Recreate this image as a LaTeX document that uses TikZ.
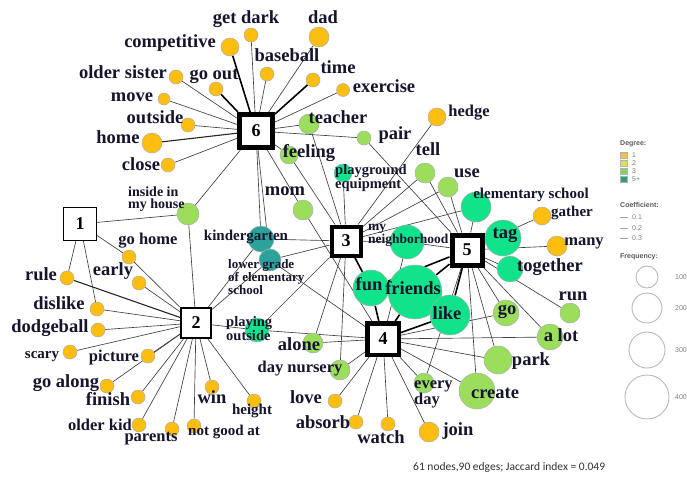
\documentclass[tikz,border=0pt]{standalone}
\usepackage{fontspec}
\setmainfont{Liberation Serif}
\newfontfamily\legfont{Liberation Sans}
\newfontfamily\capfont{Carlito}
\usetikzlibrary{backgrounds}

\definecolor{cOr}{HTML}{FDBE0F}
\definecolor{cLg}{HTML}{9BDE5C}
\definecolor{cBg}{HTML}{11E38A}
\definecolor{cTl}{HTML}{2BA39A}
\definecolor{edge}{HTML}{404040}
\definecolor{txt}{HTML}{14142C}
\definecolor{legA}{HTML}{F5C242}
\definecolor{legB}{HTML}{D5E05B}
\definecolor{legC}{HTML}{8ACF63}
\definecolor{legD}{HTML}{2E9E74}

\tikzset{
	wrd/.style={circle, draw=gray!65, line width=0.5pt, inner sep=0pt},
	grp/.style={rectangle, draw=black, fill=white, inner sep=0pt, font=\fontsize{18}{18}\selectfont\bfseries},
	lbl/.style={inner sep=0pt, text=txt, text height=.68em, text depth=.2em, font=\fontsize{18.5}{18.5}\selectfont\bfseries},
	lblm/.style={lbl, font=\fontsize{16.5}{16.5}\selectfont\bfseries},
	lbls/.style={lbl, font=\fontsize{15}{15}\selectfont\bfseries},
	lblml/.style 2 args={inner sep=0pt, text=txt, anchor=west, align=left, font=\fontsize{#1}{#2}\selectfont\bfseries},
	lnk/.style={draw=edge, line width=0.65pt},
	lnkm/.style={draw=black!85, line width=1.1pt},
	lnkb/.style={draw=black, line width=1.6pt},
	leg/.style={inner sep=0pt, anchor=west, text=gray, font=\legfont\fontsize{7}{7}\selectfont},
	legh/.style={leg, text=black!65, font=\legfont\fontsize{7}{7}\selectfont\bfseries},
}

\begin{document}
\begin{tikzpicture}[x=1pt, y=-1pt]
	\useasboundingbox (0,0) rectangle (687,477);
	\clip (0,0) rectangle (687,477);

	% group squares
	\node[grp, minimum size=33, line width=5pt] (g6) at (256,131) {6};
	\node[grp, minimum size=33, line width=1.2pt] (g1) at (80,224) {1};
	\node[grp, minimum size=30, line width=2pt] (g2) at (196,323) {2};
	\node[grp, minimum size=29, line width=4pt] (g3) at (346,241) {3};
	\node[grp, minimum size=30, line width=5pt] (g5) at (467,250) {5};
	\node[grp, minimum size=31.5, line width=4.5pt] (g4) at (383,339) {4};

	% words
	\node[wrd, fill=cOr, minimum size=18] (comp) at (230,47) {};
	\node[wrd, fill=cOr, minimum size=14] (gdark) at (251,35) {};
	\node[wrd, fill=cOr, minimum size=20] (dad) at (319,37) {};
	\node[wrd, fill=cOr, minimum size=14] (base) at (267,74) {};
	\node[wrd, fill=cOr, minimum size=14] (time) at (313,80) {};
	\node[wrd, fill=cOr, minimum size=13] (exer) at (343,90) {};
	\node[wrd, fill=cOr, minimum size=14] (osis) at (176,77) {};
	\node[wrd, fill=cOr, minimum size=14] (gout) at (216,89) {};
	\node[wrd, fill=cOr, minimum size=12] (move) at (164,99) {};
	\node[wrd, fill=cOr, minimum size=14] (outs) at (188,125) {};
	\node[wrd, fill=cOr, minimum size=20] (home) at (152,143) {};
	\node[wrd, fill=cOr, minimum size=14] (close) at (168,165) {};
	\node[wrd, fill=cLg, minimum size=20] (teach) at (309,124) {};
	\node[wrd, fill=cLg, minimum size=14] (pair) at (364,138) {};
	\node[wrd, fill=cLg, minimum size=18] (feel) at (289,155) {};
	\node[wrd, fill=cOr, minimum size=18] (hedge) at (437,117) {};
	\node[wrd, fill=cBg, minimum size=18] (play) at (343,173) {};
	\node[wrd, fill=cLg, minimum size=20] (tell) at (425,173) {};
	\node[wrd, fill=cLg, minimum size=20] (use) at (448,187) {};
	\node[wrd, fill=cLg, minimum size=20] (mom) at (303,210) {};
	\node[wrd, fill=cBg, minimum size=30] (elem) at (476,207) {};
	\node[wrd, fill=cOr, minimum size=18] (gath) at (542,216) {};
	\node[wrd, fill=cBg, minimum size=34] (neigh) at (407,242) {};
	\node[wrd, fill=cBg, minimum size=36] (tag) at (503,238) {};
	\node[wrd, fill=cOr, minimum size=20] (many) at (557,246) {};
	\node[wrd, fill=cBg, minimum size=26] (tog) at (510,269) {};
	\node[wrd, fill=cBg, minimum size=36] (fun) at (371,288) {};
	\node[wrd, fill=cBg, minimum size=54] (fri) at (415,292) {};
	\node[wrd, fill=cBg, minimum size=40] (like) at (450,315) {};
	\node[wrd, fill=cLg, minimum size=22] (inside) at (188,214) {};
	\node[wrd, fill=cTl, minimum size=26] (kind) at (261,239) {};
	\node[wrd, fill=cTl, minimum size=22] (lower) at (270,260) {};
	\node[wrd, fill=cOr, minimum size=14] (ghome) at (129,257) {};
	\node[wrd, fill=cOr, minimum size=14] (early) at (139,283) {};
	\node[wrd, fill=cOr, minimum size=14] (rule) at (67,278) {};
	\node[wrd, fill=cOr, minimum size=14] (disl) at (97,309) {};
	\node[wrd, fill=cOr, minimum size=14] (dodge) at (98,330) {};
	\node[wrd, fill=cBg, minimum size=24] (pout) at (257,330) {};
	\node[wrd, fill=cOr, minimum size=14] (scary) at (70,352) {};
	\node[wrd, fill=cOr, minimum size=14] (pict) at (148,356) {};
	\node[wrd, fill=cOr, minimum size=14] (galong) at (107,386) {};
	\node[wrd, fill=cOr, minimum size=14] (fin) at (138,397) {};
	\node[wrd, fill=cOr, minimum size=14] (okid) at (139,425) {};
	\node[wrd, fill=cOr, minimum size=14] (par) at (172,429) {};
	\node[wrd, fill=cOr, minimum size=14] (ngood) at (194,426) {};
	\node[wrd, fill=cOr, minimum size=14] (win) at (212,387) {};
	\node[wrd, fill=cOr, minimum size=14] (height) at (254,401) {};
	\node[wrd, fill=cLg, minimum size=20] (alone) at (313,343) {};
	\node[wrd, fill=cLg, minimum size=20] (dnur) at (340,370) {};
	\node[wrd, fill=cOr, minimum size=14] (love) at (335,401) {};
	\node[wrd, fill=cOr, minimum size=14] (absorb) at (356,422) {};
	\node[wrd, fill=cOr, minimum size=14] (watch) at (388,424) {};
	\node[wrd, fill=cOr, minimum size=20] (join) at (429,432) {};
	\node[wrd, fill=cLg, minimum size=20] (every) at (424,383) {};
	\node[wrd, fill=cLg, minimum size=36] (create) at (477,391) {};
	\node[wrd, fill=cLg, minimum size=28] (park) at (498,360) {};
	\node[wrd, fill=cLg, minimum size=26] (alot) at (550,337) {};
	\node[wrd, fill=cLg, minimum size=26] (go) at (506,313) {};
	\node[wrd, fill=cLg, minimum size=20] (run) at (570,313) {};

	% labels
	\node[lbl] (compt) at (170,45) {competitive};
	\node[lbl] (gdarkt) at (246,21) {get dark};
	\node[lbl] (dadt) at (323,21) {dad};
	\node[lbl] (baset) at (287,59) {baseball};
	\node[lbl] (timet) at (338,71) {time};
	\node[lbl] (exert) at (384,90) {exercise};
	\node[lbl] (osist) at (123,76) {older sister};
	\node[lbl] (goutt) at (214,77) {go out};
	\node[lbl] (movet) at (132,99) {move};
	\node[lbl] (outst) at (155,121) {outside};
	\node[lbl] (homet) at (118,141) {home};
	\node[lbl] (closet) at (141,168) {close};
	\node[lbl] (teacht) at (338,121) {teacher};
	\node[lbl] (pairt) at (395,137) {pair};
	\node[lbl] (feelt) at (309,155) {feeling};
	\node[lblm] (hedget) at (469,114) {hedge};
	\node[lblml={14.5}{12}] (playt) at (335,178) {playground\\equipment};
	\node[lbl] (tellt) at (428,153) {tell};
	\node[lbl] (uset) at (467,175) {use};
	\node[lbl] (momt) at (285,193) {mom};
	\node[lbls] (elemt) at (531,196) {elementary school};
	\node[lbls] (gatht) at (572,214) {gather};
	\node[lblml={13.5}{11.5}] (neight) at (368,235.5) {my\\neighborhood};
	\node[lbl] (tagt) at (505,236) {tag};
	\node[lblm] (manyt) at (584,243) {many};
	\node[lbl] (togt) at (550,269) {together};
	\node[lbl] (funt) at (369,288) {fun};
	\node[lbl] (frit) at (413,292) {friends};
	\node[lbl] (liket) at (447,317) {like};
	\node[lblml={14}{12}] (insidet) at (128,199) {inside in\\my house};
	\node[lbls] (kindt) at (246,238) {kindergarten};
	\node[lblml={13}{9.8}] (lowert) at (228,277) {lower grade\\of elementary\\school};
	\node[lblm] (ghomet) at (148,242) {go home};
	\node[lbl] (earlyt) at (113,273) {early};
	\node[lbl] (rulet) at (41,278) {rule};
	\node[lbl] (dislt) at (59,307) {dislike};
	\node[lbl] (dodget) at (50,330) {dodgeball};
	\node[lblml={14.5}{11.5}] (poutt) at (226,328.5) {playing\\outside};
	\node[lbls] (scaryt) at (42,356) {scary};
	\node[lblm] (pictt) at (114,359) {picture};
	\node[lbl] (galongt) at (66,385) {go along};
	\node[lbl] (fint) at (108,403) {finish};
	\node[lblm] (okidt) at (100,428) {older kid};
	\node[lblm] (part) at (151,439) {parents};
	\node[lbls] (ngoodt) at (224,433) {not good at};
	\node[lbl] (wint) at (212,401) {win};
	\node[lbls] (heightt) at (252,412) {height};
	\node[lbl] (alonet) at (299,348) {alone};
	\node[lblm] (dnurt) at (300,370) {day nursery};
	\node[lbl] (lovet) at (306,401) {love};
	\node[lbl] (absorbt) at (323,426) {absorb};
	\node[lbl] (watcht) at (381,441) {watch};
	\node[lbl] (joint) at (458,433) {join};
	\node[lblml={16.5}{14}] (everyt) at (414,394) {every\\day};
	\node[lbl] (createt) at (495,396) {create};
	\node[lbl] (parkt) at (531,363) {park};
	\node[lbl] (alott) at (561,339) {a lot};
	\node[lbl] (got) at (507,312) {go};
	\node[lbl] (runt) at (573,298) {run};

	% legend
	\node[legh] (degh) at (620,144) {Degree:};
	\foreach \c/\t [count=\i] in {legA/1,legB/2,legC/3,legD/5+} {
		\node[draw=gray!60, line width=0.3pt, fill=\c, minimum size=6.5, inner sep=0pt] (dsq\i) at (623.5,147+8*\i) {};
		\node[leg] (dtx\i) at (632,147+8*\i) {\t};
	}
	\node[legh] (coefh) at (620,205) {Coefficient:};
	\foreach \w/\t [count=\i] in {0.4pt/0.1,0.8pt/0.2,1.2pt/0.3} {
		\draw[gray!70, line width=\w] (620,207+10.5*\i) -- (628,207+10.5*\i);
		\node[leg] (ctx\i) at (632,207+10.5*\i) {\t};
	}
	\node[legh] (freqh) at (620,257) {Frequency:};
	\foreach \y/\d/\t [count=\i] in {277/22/100,308/30/200,350/36/300,397/44/400} {
		\node[circle, draw=gray!55, line width=0.9pt, minimum size=\d, inner sep=0pt] (fq\i) at (647,\y) {};
		\node[leg] (ftx\i) at (675,\y) {\t};
	}

	\node[anchor=west, inner sep=0pt, text=black!80, font=\capfont\fontsize{11.5}{11.5}\selectfont] (cap) at (413,467) {61 nodes,90 edges; Jaccard index = 0.049};

	\begin{pgfonlayer}{background}
		\fill[white] (0,0) rectangle (687,477);
		% group 6
		\foreach \w in {gdark,dad,base,exer,osis,move,outs,close,teach,pair,feel,inside,kind,lower,mom}
			\draw[lnk] (g6) -- (\w);
		\foreach \w in {comp,time,gout}
			\draw[lnkb] (g6) -- (\w);
		\draw[lnkm] (g6) -- (home);
		% group 1
		\foreach \w in {inside,ghome,rule,disl}
			\draw[lnk] (g1) -- (\w);
		% group 2
		\foreach \w in {ghome,early,disl,dodge,scary,pict,galong,fin,okid,par,ngood,win,height,inside,kind,lower,pout}
			\draw[lnk] (g2) -- (\w);
		\draw[lnkm] (g2) -- (rule);
		% group 3
		\foreach \w in {hedge,teach,feel,play,tell,use,elem,kind,lower,neigh,pout,alone,dnur}
			\draw[lnk] (g3) -- (\w);
		\draw[lnkb] (g3) -- (fun);
		% group 4
		\foreach \w in {love,absorb,watch,join,every,create,park,alot,go,alone,dnur,pout,mom,neigh,lower}
			\draw[lnk] (g4) -- (\w);
		\foreach \w in {fun,fri,like}
			\draw[lnkb] (g4) -- (\w);
		% group 5
		\foreach \w in {gath,many,tag,tog,run,go,park,create,every,elem,use,tell,pair,neigh,alot}
			\draw[lnk] (g5) -- (\w);
		\foreach \w in {fun,fri,like}
			\draw[lnkb] (g5) -- (\w);
	\end{pgfonlayer}
\end{tikzpicture}
\end{document}
